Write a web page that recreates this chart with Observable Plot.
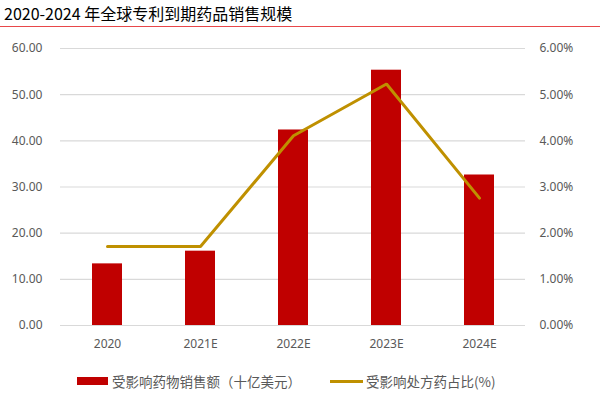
<!DOCTYPE html>
<html>
<head>
<meta charset="utf-8">
<script src="https://cdn.jsdelivr.net/npm/d3@7"></script>
<script src="https://cdn.jsdelivr.net/npm/@observablehq/plot@0.6"></script>
<style>
  body { margin: 0; background: #fff; font-family: "Noto Sans CJK SC", "Noto Sans", sans-serif; }
  #wrap { width: 600px; height: 400px; position: relative; overflow: hidden; }
  #title { height: 26px; border-bottom: 1px solid #e8474a; font-size: 16px; line-height: 26px; padding-left: 4px; color: #000; box-sizing: content-box; }
  #legend { position: absolute; top: 371px; left: 0; width: 600px; font-size: 13.5px; color: #595959; }
  .lg { position: absolute; display: flex; align-items: center; white-space: nowrap; }
</style>
</head>
<body>
<div id="wrap">
  <div id="title">2020-2024 年全球专利到期药品销售规模</div>
  <div id="chart"></div>
  <div id="legend">
    <div class="lg" style="left:77px"><span style="display:inline-block;width:31px;height:8px;background:#C00000;margin-right:4px"></span>受影响药物销售额（十亿美元）</div>
    <div class="lg" style="left:330px"><span style="display:inline-block;width:33px;height:3px;background:#BF9000;margin-right:3px"></span>受影响处方药占比(%)</div>
  </div>
</div>
<script>
const years = ["2020", "2021E", "2022E", "2023E", "2024E"];
const sales = [13.35, 16.1, 42.35, 55.3, 32.6];
const share = [1.71, 1.71, 4.11, 5.23, 2.76];
const leftTicks = [0, 10, 20, 30, 40, 50, 60];

const data = years.map((y, i) => ({year: y, sales: sales[i], share: share[i], shareScaled: share[i] * 10}));

const chart = Plot.plot({
  width: 600,
  height: 333,
  marginTop: 21,
  marginBottom: 35,
  marginLeft: 60,
  marginRight: 75,
  style: {fontFamily: "'Noto Sans', 'Open Sans', sans-serif", fontSize: "12px", color: "#595959", background: "#fff"},
  x: {domain: years, paddingInner: 0.68, paddingOuter: 0.34, label: null},
  y: {domain: [0, 60], label: null},
  marks: [
    Plot.ruleY(leftTicks, {stroke: "#d9d9d9", strokeWidth: 1.2}),
    Plot.axisY(leftTicks, {anchor: "left", tickSize: 0, tickPadding: 18, tickFormat: d => d.toFixed(2), label: null, fill: "#595959", fontSize: 12}),
    Plot.axisY(leftTicks, {anchor: "right", tickSize: 0, tickPadding: 14, tickFormat: d => (d / 10).toFixed(2) + "%", label: null, fill: "#595959", fontSize: 12}),
    Plot.axisX({tickSize: 0, tickPadding: 14, label: null, fill: "#595959", fontSize: 12}),
    Plot.barY(data, {x: "year", y: "sales", fill: "#C00000"}),
    Plot.line(data, {x: "year", y: "shareScaled", stroke: "#BF9000", strokeWidth: 3, strokeLinejoin: "miter"})
  ]
});
document.getElementById("chart").appendChild(chart);
</script>
</body>
</html>
